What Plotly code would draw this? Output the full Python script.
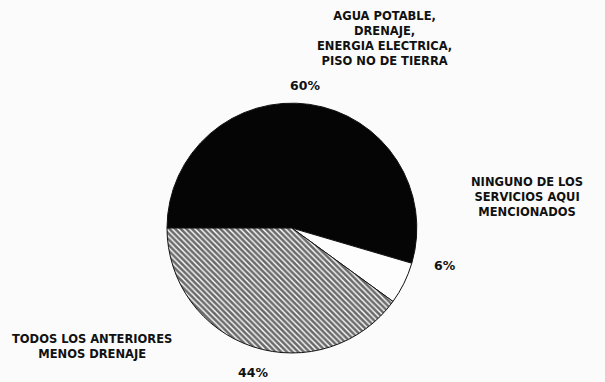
import plotly.graph_objects as go

# Housing services survey: share of homes by available services
categories = [
    "AGUA POTABLE,<br>DRENAJE,<br>ENERGIA ELECTRICA,<br>PISO NO DE TIERRA",
    "NINGUNO DE LOS<br>SERVICIOS AQUI<br>MENCIONADOS",
    "TODOS LOS ANTERIORES<br>MENOS DRENAJE",
]
values = [60, 6, 44]
pct_labels = [f"{v}%" for v in values]

slice_colors = ["#050505", "#fdfdfd", "#6a6a6a"]
pattern_shapes = ["", "", "\\"]

FONT = "DejaVu Sans, Liberation Sans, sans-serif"

fig = go.Figure(
    go.Pie(
        values=values,
        labels=[c.replace("<br>", " ") for c in categories],
        sort=False,
        direction="clockwise",
        rotation=-90,
        textinfo="none",
        hoverinfo="label+value",
        marker=dict(
            colors=slice_colors,
            line=dict(color="#111111", width=1),
            pattern=dict(
                shape=pattern_shapes,
                fgcolor="#ffffff",
                bgcolor=slice_colors,
                size=4,
                solidity=0.35,
            ),
        ),
        domain=dict(x=[0.276, 0.689], y=[0.076, 0.730]),
        showlegend=False,
    )
)

text_font = dict(family=FONT, size=11.5, color="#111111", weight="bold")
pct_font = dict(family=FONT, size=12.5, color="#111111", weight="bold")

# (x, y) centres in paper fractions for category captions and percentage labels
cat_pos = [(0.636, 0.900), (0.871, 0.484), (0.152, 0.092)]
pct_pos = [(0.504, 0.777), (0.735, 0.304), (0.418, 0.026)]

annotations = []
for text, (x, y) in zip(categories, cat_pos):
    annotations.append(dict(text=text, x=x, y=y, xref="paper", yref="paper",
                            xanchor="center", yanchor="middle",
                            showarrow=False, align="center", font=text_font))
for text, (x, y) in zip(pct_labels, pct_pos):
    annotations.append(dict(text=text, x=x, y=y, xref="paper", yref="paper",
                            xanchor="center", yanchor="middle",
                            showarrow=False, font=pct_font))

fig.update_layout(
    width=605,
    height=382,
    margin=dict(l=0, r=0, t=0, b=0),
    paper_bgcolor="#fbfbfb",
    plot_bgcolor="#fbfbfb",
    annotations=annotations,
)

fig.write_html("out.html")
